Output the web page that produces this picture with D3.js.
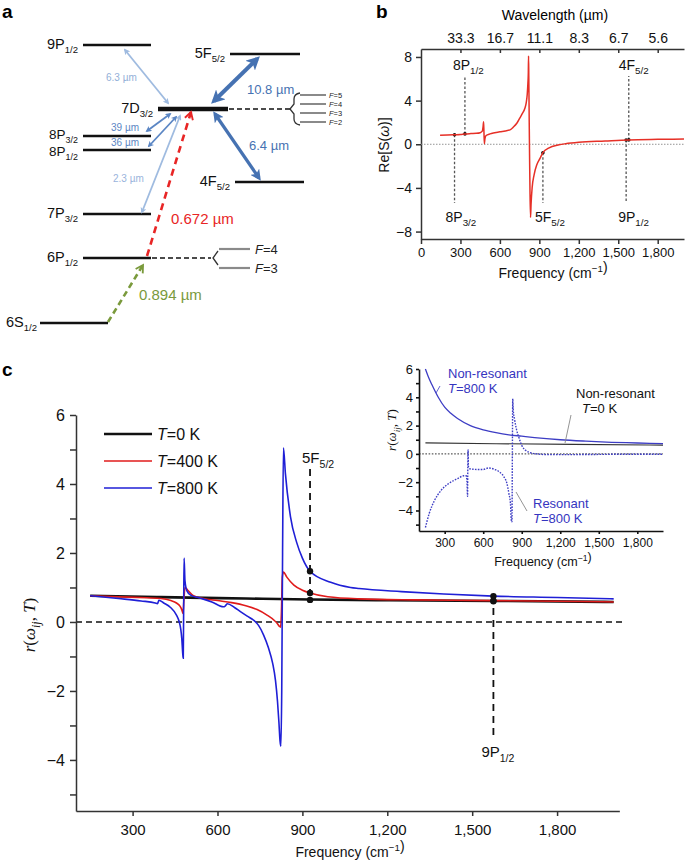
<!DOCTYPE html>
<html><head><meta charset="utf-8">
<script src="https://cdn.jsdelivr.net/npm/d3@7"></script>
<style>
body{margin:0;background:#fff}
svg{display:block}
text{font-family:"Liberation Sans",Arial,Helvetica,sans-serif}
</style>
</head><body>
<svg id="fig" width="685" height="860"></svg>
<script>
// ================= DATA =================
// Panel b : Re[S(omega)] vs frequency
const bFreq = [145,200,250,300,335,380,420,450,466,472,476,479,482,486,495,525,560,600,640,680,700,730,751,770,790,800,808,813,816,818,820,823,826,829,833,837,845,860,880,905,927,970,1050,1100,1200,1400,1580,1800,2000];
const bVal  = [0.82,0.84,0.87,0.9,0.95,0.98,1.0,1.06,1.2,1.6,2.07,1.0,0.05,0.5,0.8,0.95,1.05,1.15,1.22,1.35,1.55,1.95,2.4,2.8,3.3,3.8,4.6,5.6,6.5,8.1,6.0,2.0,-1.5,-4.5,-6.7,-5.5,-4.0,-2.8,-1.9,-1.3,-0.77,-0.35,-0.05,0.05,0.18,0.3,0.4,0.45,0.48];
const bMarkNames = [["8P","3/2"],["8P","1/2"],["5F","5/2"],["9P","1/2"],["4F","5/2"]];
const bMarkFreq  = [255,334,927,1560,1580];
const bMarkVal   = [0.87,0.95,-0.77,0.39,0.4];
const bMarkDir   = ["down","up","down","down","up"];
const bTopTicks  = [300,600,900,1200,1500,1800];
const bTopLabels = ["33.3","16.7","11.1","8.3","6.7","5.6"];
const bBottomTicks = [0,300,600,900,1200,1500,1800];
const bLeftTicks = [-8,-4,0,4,8];

// Panel c : r(omega_ij, T)
const c0Freq = [150,400,700,927,1200,1575,2000];
const c0Val  = [0.76,0.72,0.68,0.65,0.63,0.61,0.58];
const c400Freq = [150,250,350,400,435,455,468,474,478,481,485,495,515,550,600,650,700,740,775,800,812,818,823,826,829,833,845,870,900,927,990,1100,1300,1575,1800,2000];
const c400Val  = [0.76,0.73,0.70,0.68,0.62,0.55,0.45,0.35,0.25,0.6,1.0,0.92,0.76,0.68,0.62,0.56,0.47,0.36,0.2,0.05,-0.05,-0.12,-0.15,0.3,1.3,1.45,1.3,1.07,0.92,0.84,0.73,0.67,0.64,0.62,0.6,0.58];
const c800Freq = [150,250,330,380,388,393,410,434,455,465,470,474,477,479,480.5,482,485,492,505,540,580,621,628,635,660,681,705,728,745,763,780,795,805,812,817,821,824,827,830,833,840,858,880,900,927,1000,1070,1100,1250,1400,1575,1800,2000];
const c800Val  = [0.76,0.68,0.61,0.55,0.53,0.63,0.55,0.42,0.2,0.0,-0.2,-0.5,-0.9,-1.05,0.5,1.85,1.2,0.9,0.78,0.69,0.58,0.44,0.47,0.53,0.42,0.3,0.17,0.05,-0.1,-0.38,-0.75,-1.2,-1.7,-2.3,-2.9,-3.45,-3.6,-2.0,2.0,5.05,4.3,3.05,2.3,1.85,1.47,1.15,1.0,0.97,0.88,0.81,0.75,0.71,0.67];
const cMarkNames = [["5F","5/2"],["9P","1/2"]];
const cMarkFreq  = [927,1575];
const cMarkDots  = [[0.64,0.84,1.47],[0.6,0.62,0.75]];
const cXTicks = [300,600,900,1200,1500,1800];
const cYTicks = [-5,-4,-3,-2,-1,0,1,2,3,4,5,6];
const cLegend = ["0","400","800"];

// Inset
const inNonFreq = [150,175,200,250,300,350,400,500,600,700,800,900,1000,1200,1400,1600,1800,2000];
const inNon800  = [6.0,5.4,4.9,4.0,3.3,2.85,2.5,2.0,1.7,1.5,1.35,1.25,1.15,1.0,0.9,0.82,0.77,0.72];
const inZeroFreq = [150,700,1300,2000];
const inNon0     = [0.78,0.72,0.67,0.62];
const inResFreq = [150,180,220,270,330,400,450,468,474,478,480,482,485,495,550,600,640,690,730,760,785,800,812,820,824,827,830,833,845,860,880,900,930,970,1000,1100,1300,1600,2000];
const inResVal  = [-5.2,-4.2,-3.3,-2.6,-2.1,-1.75,-1.55,-1.55,-2.0,-3.0,-1.0,0.3,-0.9,-1.05,-1.1,-1.1,-1.0,-1.1,-1.3,-1.6,-2.1,-2.8,-3.5,-4.8,-4.8,0.0,3.9,3.2,2.4,1.7,1.1,0.6,0.25,0.08,0.02,-0.05,-0.05,-0.03,-0.02];
const inXTicks = [300,600,900,1200,1500,1800];
const inYTicks = [-5,-4,-3,-2,-1,0,1,2,3,4,5,6];

// Panel a : level scheme (schematic)
const levelNames = [["9P","1/2"],["5F","5/2"],["7D","3/2"],["8P","3/2"],["8P","1/2"],["4F","5/2"],["7P","3/2"],["6P","1/2"],["6S","1/2"]];
const arrowLabels = ["6.3 µm","39 µm","36 µm","2.3 µm","10.8 µm","6.4 µm","0.672 µm","0.894 µm"];

// ================= DRAW =================
const svg = d3.select("#fig");
const fmtNum = d => (d < 0 ? "\u2212" : "") + d3.format(",")(Math.abs(d));

function rich(g, x, y, parts, o = {}) {
  const size = o.size || 14;
  const t = g.append("text").attr("x", x).attr("y", y).attr("font-size", size)
    .attr("fill", o.fill || "#111").attr("text-anchor", o.anchor || "start");
  if (o.family) t.style("font-family", o.family);
  if (o.rotate) t.attr("transform", `rotate(${o.rotate},${x},${y})`);
  let shift = 0;
  const subScale = o.subScale || 0.7;
  parts.forEach(p => {
    const [s, type] = typeof p === "string" ? [p, "n"] : p;
    const ts = t.append("tspan").text(s);
    let target = 0;
    if (type === "s" || type === "si") { target = size * 0.3; ts.attr("font-size", size * subScale); }
    if (type === "sup") { target = -size * 0.42; ts.attr("font-size", size * 0.7); }
    if (type === "i" || type === "si") ts.attr("font-style", "italic");
    if (target !== shift) { ts.attr("dy", target - shift); shift = target; }
  });
  return t;
}

// ---------- Panel a ----------
const ga = svg.append("g");
ga.append("text").attr("x", 2).attr("y", 18).attr("font-size", 19).attr("font-weight", "bold").text("a");

const defs = svg.append("defs");
function triMarker(id, color) {
  const m = defs.append("marker").attr("id", id).attr("viewBox", "0 0 10 10").attr("refX", 7).attr("refY", 5)
    .attr("markerWidth", 3.4).attr("markerHeight", 3.4).attr("orient", "auto-start-reverse");
  m.append("path").attr("d", "M0,0 L10,5 L0,10 L2.5,5 z").attr("fill", color);
}
function chevMarker(id, color) {
  const m = defs.append("marker").attr("id", id).attr("viewBox", "0 0 10 10").attr("refX", 8).attr("refY", 5)
    .attr("markerWidth", 4).attr("markerHeight", 4).attr("orient", "auto");
  m.append("path").attr("d", "M1,1 L8,5 L1,9").attr("fill", "none").attr("stroke", color).attr("stroke-width", 1.8);
}
const colLight = "#9fbbe0", colMid = "#5b86c4", colDark = "#4672b2", colRed = "#e82525", colGreen = "#7a9a3c";
triMarker("mLight", colLight); triMarker("mMid", colMid); triMarker("mDark", colDark);
chevMarker("mRed", colRed); chevMarker("mGreen", colGreen);

// level layout: [x1, x2, y, label anchor x, thickness, label baseline offset]
const levelLayout = [[83,151,45,78,2.5,4],[230,300,54,225,2.5,4],[158,228,109,153,4.5,4],[83,151,136,78,2.5,2.5],[83,151,150,78,2.5,5.5],[235,304,182,230,2.5,4],[83,151,214,78,2.5,4],[83,151,258,78,2.5,4],[40,108,323,37,2.5,4]];
levelNames.forEach((n, i) => {
  const [x1, x2, y, lx, w, dy] = levelLayout[i];
  ga.append("line").attr("x1", x1).attr("x2", x2).attr("y1", y).attr("y2", y).attr("stroke", "#111").attr("stroke-width", w);
  rich(ga, lx, y + dy, [n[0], [n[1], "s"]], { size: (i === 3 || i === 4) ? 13.5 : 14.5, anchor: "end", subScale: 0.66 });
});

// hyperfine of 7D3/2
ga.append("line").attr("x1", 229).attr("x2", 291).attr("y1", 109).attr("y2", 109).attr("stroke", "#111").attr("stroke-width", 1.6).attr("stroke-dasharray", "5,3");
ga.append("path").attr("d", "M300,93 Q294,94 294,99 L294,104 L290,109 L294,114 L294,119 Q294,124 300,125").attr("fill", "none").attr("stroke", "#333").attr("stroke-width", 1.3);
const hf7 = [["5", 95], ["4", 104], ["3", 113], ["2", 122]];
hf7.forEach(([f, y]) => {
  ga.append("line").attr("x1", 300).attr("x2", 326).attr("y1", y).attr("y2", y).attr("stroke", "#8a8a8a").attr("stroke-width", 2);
  rich(ga, 329, y + 3, [["F", "i"], "=" + f], { size: 7.5, fill: "#222" });
});
// hyperfine of 6P1/2
ga.append("line").attr("x1", 152).attr("x2", 211).attr("y1", 258).attr("y2", 258).attr("stroke", "#111").attr("stroke-width", 1.6).attr("stroke-dasharray", "5,3");
ga.append("path").attr("d", "M218,251 L213,258 L218,265").attr("fill", "none").attr("stroke", "#333").attr("stroke-width", 1.3);
[["4", 249], ["3", 268]].forEach(([f, y]) => {
  ga.append("line").attr("x1", 219).attr("x2", 250).attr("y1", y).attr("y2", y).attr("stroke", "#8a8a8a").attr("stroke-width", 2.2);
  rich(ga, 255, y + 5, [["F", "i"], "=" + f], { size: 13, fill: "#222" });
});

// arrows: [x1,y1,x2,y2,color,marker,width,double,dash]
const arrowGeom = [
  [168,103,125,50,colLight,"mLight",1.8,true,null],
  [170,114,147,131,colMid,"mMid",1.8,true,null],
  [176,117,149,146,colMid,"mMid",1.8,true,null],
  [180,116,142,212,colLight,"mLight",1.8,true,null],
  [214,101,257,59,colDark,"mDark",4,true,null],
  [215,114,259,178,colDark,"mDark",3.2,true,null],
  [147,256,191,112,colRed,"mRed",2.6,false,"7,5"],
  [108,322,143,265,colGreen,"mGreen",2.6,false,"6,4"]
];
const labelGeom = [[106,81,10,"#93afd8"],[111,131,10,colMid],[111,146,10,colMid],[113,182,10,"#9ab4dc"],[247,94,13,colDark],[249,150,13,colDark],[171,224,15,colRed],[139,300,15,colGreen]];
arrowGeom.forEach((a, i) => {
  const [x1, y1, x2, y2, c, m, w, dbl, dash] = a;
  const ln = ga.append("line").attr("x1", x1).attr("y1", y1).attr("x2", x2).attr("y2", y2)
    .attr("stroke", c).attr("stroke-width", w).attr("marker-end", `url(#${m})`);
  if (dbl) ln.attr("marker-start", `url(#${m})`);
  if (dash) ln.attr("stroke-dasharray", dash);
  const [lx, ly, ls, lc] = labelGeom[i];
  ga.append("text").attr("x", lx).attr("y", ly).attr("font-size", ls).attr("fill", lc).text(arrowLabels[i]);
});

// ---------- Panel b ----------
const gb = svg.append("g");
gb.append("text").attr("x", 376).attr("y", 18).attr("font-size", 19).attr("font-weight", "bold").text("b");
const xb = d3.scaleLinear().domain([0, 2000]).range([421, 684]);
const yb = d3.scaleLinear().domain([-8.68, 8.73]).range([239, 49]);
const axCol = "#333";
function styleAxis(g, fs) {
  g.selectAll("path,line").attr("stroke", axCol).attr("stroke-width", 1.5);
  g.selectAll("text").attr("font-size", fs).attr("fill", "#111").style("font-family", '"Liberation Sans",Arial,sans-serif');
}
gb.append("g").attr("transform", "translate(0,239)")
  .call(d3.axisBottom(xb).tickValues(bBottomTicks).tickFormat(fmtNum).tickSize(5).tickSizeOuter(0).tickPadding(4))
  .call(g => styleAxis(g, 13));
gb.append("g").attr("transform", "translate(0,49)")
  .call(d3.axisTop(xb).tickValues(bTopTicks).tickFormat((d, i) => bTopLabels[i]).tickSize(-4).tickSizeOuter(0).tickPadding(6))
  .call(g => styleAxis(g, 14));
gb.append("g").attr("transform", "translate(421,0)")
  .call(d3.axisLeft(yb).tickValues(bLeftTicks).tickFormat(fmtNum).tickSize(5).tickSizeOuter(0).tickPadding(4))
  .call(g => styleAxis(g, 14));
gb.append("line").attr("x1", xb(0)).attr("x2", xb(2000)).attr("y1", yb(0)).attr("y2", yb(0))
  .attr("stroke", "#888").attr("stroke-width", 0.9).attr("stroke-dasharray", "1.5,1.5");
gb.append("text").attr("x", 555).attr("y", 20).attr("text-anchor", "middle").attr("font-size", 14).text("Wavelength (µm)");
rich(gb, 553, 278, ["Frequency (cm", ["\u22121", "sup"], ["", "n"], ")"], { size: 14, anchor: "middle" });
rich(gb, 389, 145, ["Re[", "S", "(", ["ω", "i"], ")]"], { size: 14, anchor: "middle", rotate: -90 });

// markers b
bMarkFreq.forEach((f, i) => {
  const x = xb(f), yv = yb(bMarkVal[i]);
  const yEnd = bMarkDir[i] === "up" ? 76 : 203;
  gb.append("line").attr("x1", x).attr("x2", x).attr("y1", yv).attr("y2", yEnd)
    .attr("stroke", "#555").attr("stroke-width", 1.3).attr("stroke-dasharray", "2.5,2");
  gb.append("circle").attr("cx", x).attr("cy", yv).attr("r", 1.8).attr("fill", "#111");
  const ly = bMarkDir[i] === "up" ? 70 : 222;
  const off = [-9, -12, -8, -8, -10][i];
  rich(gb, x + off, ly, [bMarkNames[i][0], [bMarkNames[i][1], "s"]], { size: 14 });
});
gb.append("path").datum(bFreq.map((f, i) => [f, bVal[i]]))
  .attr("d", d3.line().x(d => xb(d[0])).y(d => yb(d[1])).curve(d3.curveMonotoneX))
  .attr("fill", "none").attr("stroke", "#e63027").attr("stroke-width", 1.5);

// ---------- Panel c ----------
const gc = svg.append("g");
gc.append("text").attr("x", 2).attr("y", 376).attr("font-size", 19).attr("font-weight", "bold").text("c");
const xc = d3.scaleLinear().domain([100, 2040]).range([76, 625]);
const yc = d3.scaleLinear().domain([-5.48, 6]).range([811, 415]);
gc.append("line").attr("x1", xc(100)).attr("x2", xc(2040)).attr("y1", yc(0)).attr("y2", yc(0))
  .attr("stroke", "#111").attr("stroke-width", 1.4).attr("stroke-dasharray", "6,4");
gc.append("g").attr("transform", "translate(0,811)")
  .call(d3.axisBottom(d3.scaleLinear().domain([100, 2020]).range([76, xc(2020)])).tickValues(cXTicks).tickFormat(fmtNum).tickSize(5).tickSizeOuter(0).tickPadding(8))
  .call(g => styleAxis(g, 15));
gc.append("g").attr("transform", "translate(76,0)")
  .call(d3.axisLeft(yc).tickValues(cYTicks).tickFormat(d => d % 2 === 0 ? fmtNum(d) : "").tickSize(6).tickSizeOuter(0).tickPadding(5))
  .call(g => styleAxis(g, 16));
rich(gc, 350, 857, ["Frequency (cm", ["\u22121", "sup"], ["", "n"], ")"], { size: 14, anchor: "middle" });
rich(gc, 35, 625, [["r", "i"], "(", ["ω", "i"], ["ij", "si"], ", ", ["T", "i"], ")"], { size: 17, anchor: "middle", rotate: -90, family: '"Liberation Serif","Times New Roman",serif' });

// markers c
cMarkFreq.forEach((f, i) => {
  const x = xc(f);
  const dots = cMarkDots[i];
  if (i === 0) {
    gc.append("line").attr("x1", x).attr("x2", x).attr("y1", 469).attr("y2", yc(dots[0]))
      .attr("stroke", "#111").attr("stroke-width", 1.8).attr("stroke-dasharray", "7,5");
    rich(gc, x - 8, 463, [cMarkNames[i][0], [cMarkNames[i][1], "s"]], { size: 15 });
  } else {
    gc.append("line").attr("x1", x).attr("x2", x).attr("y1", yc(dots[2])).attr("y2", 738)
      .attr("stroke", "#111").attr("stroke-width", 1.8).attr("stroke-dasharray", "7,5");
    rich(gc, x - 12, 757, [cMarkNames[i][0], [cMarkNames[i][1], "s"]], { size: 15 });
  }
});
const lc = d3.line().x(d => xc(d[0])).y(d => yc(d[1])).curve(d3.curveMonotoneX);
const cSeries = [[c0Freq, c0Val, "#111", 2.6], [c400Freq, c400Val, "#e01b1b", 1.6], [c800Freq, c800Val, "#1f1fd6", 1.6]];
cSeries.forEach(([fr, vv, col, w]) => {
  gc.append("path").datum(fr.map((f, i) => [f, vv[i]])).attr("d", lc)
    .attr("fill", "none").attr("stroke", col).attr("stroke-width", w);
});
cMarkFreq.forEach((f, i) => {
  cMarkDots[i].forEach(v => gc.append("circle").attr("cx", xc(f)).attr("cy", yc(v)).attr("r", 3.2).attr("fill", "#111"));
});
// legend
const legY = [434, 461, 488];
cLegend.forEach((t, i) => {
  gc.append("line").attr("x1", 104).attr("x2", 152).attr("y1", legY[i]).attr("y2", legY[i])
    .attr("stroke", cSeries[i][2]).attr("stroke-width", cSeries[i][3]);
  rich(gc, 157, legY[i] + 6, [["T", "i"], "=" + t + " K"], { size: 16 });
});

// ---------- Inset ----------
const gi = svg.append("g");
const xi = d3.scaleLinear().domain([100, 2000]).range([419, 663]);
const yi = d3.scaleLinear().domain([-5.45, 6]).range([531, 369]);
gi.append("line").attr("x1", xi(100)).attr("x2", xi(2000)).attr("y1", yi(0)).attr("y2", yi(0))
  .attr("stroke", "#333").attr("stroke-width", 1).attr("stroke-dasharray", "1.6,1.6");
gi.append("g").attr("transform", "translate(0,531)")
  .call(d3.axisBottom(xi).tickValues(inXTicks).tickFormat(fmtNum).tickSize(3).tickSizeOuter(0).tickPadding(4))
  .call(g => { styleAxis(g, 12); g.selectAll("path,line").attr("stroke", "#111").attr("stroke-width", 1.6); });
gi.append("g").attr("transform", "translate(419,0)")
  .call(d3.axisLeft(yi).tickValues(inYTicks).tickFormat(d => d % 2 === 0 ? fmtNum(d) : "").tickSize(3).tickSizeOuter(0).tickPadding(3))
  .call(g => { styleAxis(g, 13); g.selectAll("path,line").attr("stroke", "#111").attr("stroke-width", 1.6); });
rich(gi, 543, 566, ["Frequency (cm", ["\u22121", "sup"], ["", "n"], ")"], { size: 12.5, anchor: "middle" });
rich(gi, 396, 430, [["r", "i"], "(", ["ω", "i"], ["ij", "si"], ", ", ["T", "i"], ")"], { size: 13, anchor: "middle", rotate: -90, family: '"Liberation Serif","Times New Roman",serif' });
const li = d3.line().x(d => xi(d[0])).y(d => yi(d[1])).curve(d3.curveMonotoneX);
gi.append("path").datum(inZeroFreq.map((f, i) => [f, inNon0[i]])).attr("d", li)
  .attr("fill", "none").attr("stroke", "#333").attr("stroke-width", 1.1);
gi.append("path").datum(inNonFreq.map((f, i) => [f, inNon800[i]])).attr("d", li)
  .attr("fill", "none").attr("stroke", "#3d3dc4").attr("stroke-width", 1.3);
gi.append("path").datum(inResFreq.map((f, i) => [f, inResVal[i]])).attr("d", li)
  .attr("fill", "none").attr("stroke", "#3d3dc4").attr("stroke-width", 1.4).attr("stroke-dasharray", "1.6,1.3");
// annotations
gi.append("line").attr("x1", 440).attr("y1", 386).attr("x2", 436).attr("y2", 393).attr("stroke", "#3d3dc4").attr("stroke-width", 0.8);
rich(gi, 448, 378, ["Non-resonant"], { size: 13, fill: "#3535c0" });
rich(gi, 448, 393, [["T", "i"], "=800 K"], { size: 13, fill: "#3535c0" });
gi.append("line").attr("x1", 571).attr("y1", 415).attr("x2", 565).attr("y2", 443).attr("stroke", "#888").attr("stroke-width", 0.9);
rich(gi, 576, 398, ["Non-resonant"], { size: 13, fill: "#111" });
rich(gi, 582, 413, [["T", "i"], "=0 K"], { size: 13, fill: "#111" });
gi.append("line").attr("x1", 527).attr("y1", 511).attr("x2", 516).attr("y2", 492).attr("stroke", "#888").attr("stroke-width", 0.9);
rich(gi, 533, 508, ["Resonant"], { size: 13, fill: "#3535c0" });
rich(gi, 533, 523, [["T", "i"], "=800 K"], { size: 13, fill: "#3535c0" });
</script>
</body></html>
